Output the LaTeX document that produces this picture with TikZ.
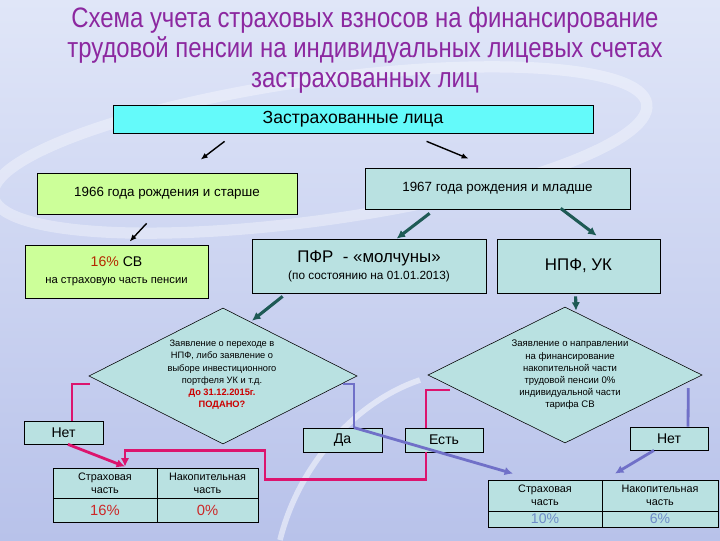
\documentclass[tikz,border=0pt]{standalone}
\usepackage{fontspec}
\setmainfont{Liberation Sans}
\newfontfamily\titlefont[FakeStretch=0.85]{Liberation Sans}
\usetikzlibrary{shapes.geometric,arrows.meta}

\definecolor{bgtop}{RGB}{224,230,248}
\definecolor{bgbottom}{RGB}{184,194,234}
\definecolor{titlepurple}{RGB}{140,40,160}
\definecolor{insuredcyan}{RGB}{100,250,250}
\definecolor{oldgreen}{RGB}{204,255,153}
\definecolor{boxteal}{RGB}{185,225,225}
\definecolor{arrowteal}{RGB}{30,90,85}
\definecolor{linepink}{RGB}{220,20,110}
\definecolor{lineblue}{RGB}{112,112,200}
\definecolor{redbrown}{RGB}{180,40,0}
\definecolor{alertred}{RGB}{204,0,0}
\definecolor{valred}{RGB}{204,40,40}
\definecolor{valblue}{RGB}{110,140,200}

\newcommand\setfs[2]{\fontsize{#1}{#2}\selectfont}

\begin{document}
\begin{tikzpicture}[x=0.025cm,y=-0.025cm,
	box/.style={draw, line width=0.5pt, align=center, inner sep=1pt},
	cyanbox/.style={box, fill=insuredcyan},
	greenbox/.style={box, fill=oldgreen},
	tealbox/.style={box, fill=boxteal},
	dbox/.style={draw, line width=0.4pt, diamond, fill=boxteal, inner sep=0pt},
	cell/.style={draw, line width=0.6pt, fill=boxteal, inner sep=0.5pt, align=center},
	arrblack/.style={-{Latex[length=5pt,width=4pt]}, line width=1pt},
	arrteal/.style={-{Latex[length=6pt,width=6pt]}, line width=2.2pt, draw=arrowteal},
	pinkline/.style={line width=2pt, draw=linepink},
	blueline/.style={line width=2pt, draw=lineblue},
	]
	\useasboundingbox (0,0) rectangle (720,540);
	% background
	\shade[top color=bgtop, bottom color=bgbottom] (0,0) rectangle (720,540);
	\draw[white, opacity=0.35, line width=8pt, rotate around={8:(320,150)}] (320,150) ellipse [x radius=330, y radius=70];
	\draw[white, opacity=0.5, line width=4pt] (280,540) .. controls (300,460) and (360,400) .. (420,380);

	\node[font=\titlefont\setfs{20}{21.3}, text=titlepurple, align=center] (title) at (365,50)
		{Схема учета страховых взносов на финансирование\\трудовой пенсии на индивидуальных лицевых счетах\\застрахованных лиц};

	\node[cyanbox, minimum width=12cm, minimum height=0.7cm, font=\setfs{12.5}{15}] (insured) at (353,119) {Застрахованные лица};
	\node[greenbox, minimum width=6.5cm, minimum height=1.025cm, font=\setfs{9.5}{11}] (old) at (167,193.5) {1966 года рождения и старше};
	\node[tealbox, minimum width=6.625cm, minimum height=1.025cm, font=\setfs{9.5}{11}] (young) at (497.5,188.5) {1967 года рождения и младше};

	\node[greenbox, minimum width=4.575cm, minimum height=1.325cm, font=\setfs{8}{12}] (sv16) at (116.5,271.5)
		{{\setfs{10}{12}\textcolor{redbrown}{16\%} СВ}\\на страховую часть пенсии};
	\node[tealbox, minimum width=5.85cm, minimum height=1.35cm, font=\setfs{8.4}{12}] (pfr) at (369,266)
		{{\setfs{12}{14}ПФР\ \ - «молчуны»}\\(по состоянию на 01.01.2013)};
	\node[tealbox, minimum width=4.075cm, minimum height=1.35cm, font=\setfs{12}{14}] (npf) at (578.5,266) {НПФ, УК};

	\node[dbox, minimum width=6.7cm, minimum height=3.4cm] (d1) at (223,376) {};
	\node[font=\setfs{6.6}{8.7}, align=center] (d1text) at (222,375)
		{Заявление о переходе в\\НПФ, либо заявление о\\выборе инвестиционного\\портфеля УК и т.д.\\\textcolor{alertred}{\textbf{До 31.12.2015г.}}\\\textcolor{alertred}{\textbf{ПОДАНО?}}};
	\node[dbox, minimum width=6.85cm, minimum height=3.4cm] (d2) at (565,375) {};
	\node[font=\setfs{6.8}{8.7}, align=center] (d2text) at (570,375)
		{Заявление о направлении\\на финансирование\\накопительной части\\трудовой пенсии 0\%\\индивидуальной части\\тарифа СВ};

	\node[tealbox, minimum width=1.975cm, minimum height=0.575cm, font=\setfs{10}{12}] (no1) at (63.5,432.5) {Нет};
	\node[tealbox, minimum width=1.975cm, minimum height=0.6cm, font=\setfs{10}{12}] (da) at (342.5,440) {Да};
	\node[tealbox, minimum width=1.95cm, minimum height=0.6cm, font=\setfs{10}{12}] (est) at (444,440) {Есть};
	\node[tealbox, minimum width=1.95cm, minimum height=0.575cm, font=\setfs{10}{12}] (no2) at (669,438.5) {Нет};

	% tables
	\node[cell, minimum width=2.6cm, minimum height=0.75cm, font=\setfs{7.7}{9}] (t1a) at (105,483) {Страховая\\часть};
	\node[cell, minimum width=2.525cm, minimum height=0.75cm, font=\setfs{7.7}{9}] (t1b) at (207.5,483) {Накопительная\\часть};
	\node[cell, minimum width=2.6cm, minimum height=0.6cm, font=\setfs{10.5}{12}, text=valred] (t1c) at (105,510) {16\%};
	\node[cell, minimum width=2.525cm, minimum height=0.6cm, font=\setfs{10.5}{12}, text=valred] (t1d) at (207.5,510) {0\%};
	\node[cell, minimum width=2.85cm, minimum height=0.775cm, font=\setfs{7.7}{9}] (t2a) at (545,495.5) {Страховая\\часть};
	\node[cell, minimum width=2.9cm, minimum height=0.775cm, font=\setfs{7.7}{9}] (t2b) at (660,495.5) {Накопительная\\часть};
	\node[cell, minimum width=2.85cm, minimum height=0.4cm, font=\setfs{10}{11}, text=valblue] (t2c) at (545,519) {10\%};
	\node[cell, minimum width=2.9cm, minimum height=0.4cm, font=\setfs{10}{11}, text=valblue] (t2d) at (660,519) {6\%};

	% arrows
	\draw[arrblack] ([shift={(112,8)}]insured.south west) -- ([shift={(164,-13)}]old.north west);
	\draw[arrblack] ([shift={(314,8)}]insured.south west) -- ([shift={(104,-9)}]young.north west);
	\draw[arrblack] ([shift={(110,9)}]old.south west) -- ([shift={(105,-3)}]sv16.north west);
	\draw[arrteal] ([shift={(65,4)}]young.south west) -- ([shift={(145,0)}]pfr.north west);
	\draw[arrteal] ([shift={(196,-1)}]young.south west) -- ([shift={(100,-3)}]npf.north west);
	\draw[arrteal] ([shift={(31,3)}]pfr.south west) -- ([shift={(29,13)}]d1.north);
	\draw[arrteal] ([shift={(79,3)}]npf.south west) -- ([shift={(11,4)}]d2.north);

	\draw[pinkline] ([shift={(1,8)}]d1.west) -| ([shift={(8.5,0)}]no1.north);
	\draw[pinkline, -{Latex[length=6pt,width=6pt]}] ([shift={(4.5,0)}]no1.south) -- ([shift={(20,-1)}]t1a.north);
	\draw[pinkline] ([shift={(22,15)}]d2.west) -| ([shift={(-18,0)}]est.north);
	\draw[pinkline, -{Latex[length=6pt,width=6pt]}] ([shift={(-18,0)}]est.south) -- ++(0,27) -- ++(-161,0) -- ++(0,-29) -- ++(-140,0) -- ([shift={(20,-1)}]t1a.north);

	\draw[blueline] ([shift={(-14,8)}]d1.east) -| ([shift={(11.5,0)}]da.north);
	\draw[blueline, -{Latex[length=6pt,width=6pt]}] ([shift={(11.5,0)}]da.north) -- ([shift={(-32,-6)}]t2a.north);
	\draw[blueline] ([shift={(-14,13)}]d2.east) -- ([shift={(19,0)}]no2.north);
	\draw[blueline, -{Latex[length=6pt,width=6pt]}] ([shift={(-15,0)}]no2.south) -- ([shift={(-45,-6)}]t2b.north);
\end{tikzpicture}
\end{document}
